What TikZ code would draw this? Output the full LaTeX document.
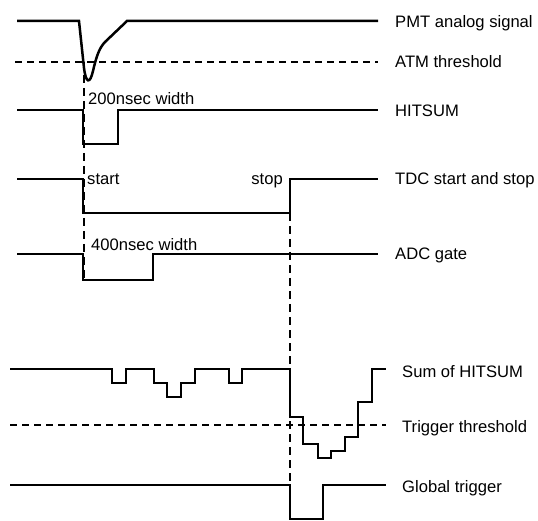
\documentclass[tikz,border=0pt]{standalone}
\usepackage{fontspec}
\setmainfont{Liberation Sans}
\begin{document}
\begin{tikzpicture}[x=1pt,y=-1pt,
  sig/.style={line width=2.5pt, line join=miter},
  thr/.style={line width=2.2pt, dash pattern=on 7pt off 5pt},
  guide/.style={line width=2.2pt, dash pattern=on 8pt off 5pt},
  lbl/.style={anchor=base west, inner sep=0pt, font=\fontsize{16.6}{18}\selectfont}]
\useasboundingbox (0,0) rectangle (538,521);
% PMT analog signal
\draw[sig] (17,21) -- (79,21) -- (84,68) .. controls (86,84) and (90,84) .. (93,71) .. controls (96,58) and (99,48) .. (105,42) -- (127,21) -- (378,21);
\node[lbl] (pmt) at (395,28) {PMT analog signal};
% ATM threshold
\draw[thr] (15,62) -- (378,62);
\node[lbl] (atm) at (395,68) {ATM threshold};
% HITSUM
\draw[sig] (17,110) -- (83,110) -- (83,144) -- (118,144) -- (118,110) -- (378,110);
\node[lbl] (hitsum) at (395,117) {HITSUM};
\node[lbl] (w200) at (88,105) {200nsec width};
% TDC
\draw[sig] (17,179) -- (83,179) -- (83,213) -- (290,213) -- (290,179) -- (378,179);
\node[lbl] (tdc) at (395,185) {TDC start and stop};
\node[lbl] (start) at (87,185) {start};
\node[lbl, anchor=base east] (stop) at (283,185) {stop};
% ADC gate
\draw[sig] (17,254) -- (83,254) -- (83,280) -- (153,280) -- (153,254) -- (378,254);
\node[lbl] (adc) at (395,260) {ADC gate};
\node[lbl] (w400) at (91,251) {400nsec width};
% vertical guides
\draw[guide] (84,62) -- (84,282);
\draw[guide] (290,213) -- (290,490);
% Sum of HITSUM
\draw[sig] (10,369) -- (112,369) -- (112,383) -- (126,383) -- (126,369) -- (154,369) -- (154,383) -- (167,383) -- (167,397) -- (181,397) -- (181,383) -- (195,383) -- (195,369) -- (229,369) -- (229,383) -- (242,383) -- (242,369) -- (290,369) -- (290,417) -- (303,417) -- (303,444) -- (318,444) -- (318,458) -- (331,458) -- (331,451) -- (345,451) -- (345,437) -- (358,437) -- (358,402) -- (372,402) -- (372,369) -- (386,369);
\node[lbl] (sum) at (402,377) {Sum of HITSUM};
% Trigger threshold
\draw[thr] (10,425) -- (386,425);
\node[lbl] (trth) at (402,432) {Trigger threshold};
% Global trigger
\draw[sig] (10,485) -- (290,485) -- (290,519) -- (323,519) -- (323,485) -- (386,485);
\node[lbl] (glob) at (402,492) {Global trigger};
\end{tikzpicture}
\end{document}
